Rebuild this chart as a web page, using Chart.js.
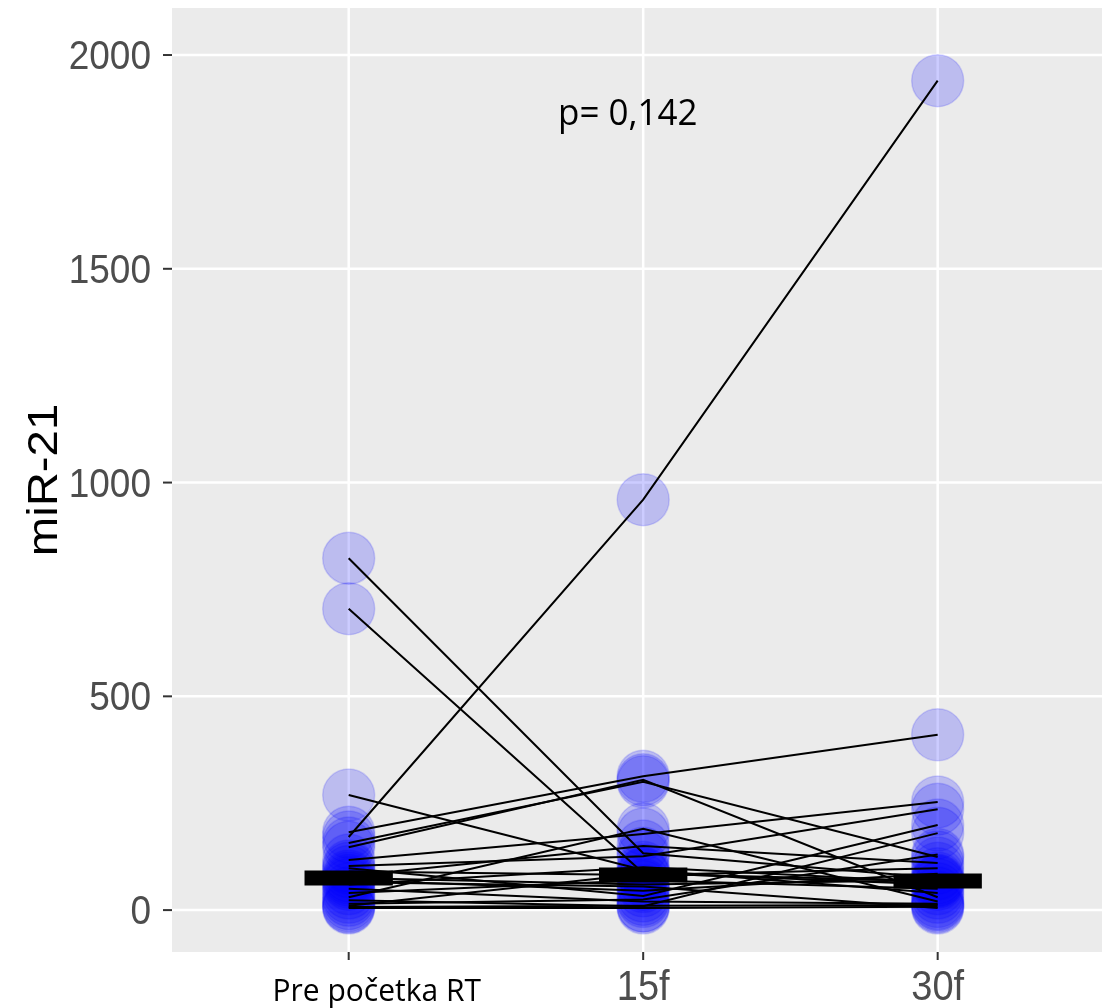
<!DOCTYPE html>
<html>
<head>
<meta charset="utf-8">
<script src="https://cdn.jsdelivr.net/npm/chart.js@4.4.1/dist/chart.umd.min.js"></script>
<style>
  html, body { margin: 0; padding: 0; background: #fff; }
  canvas { display: block; }
</style>
</head>
<body>
<canvas id="myChart" width="1102" height="1008"></canvas>
<script>
// one value per patient, same order in every array
var categories = ["Pre početka RT", "15f", "30f"];
var preRT = [171, 823, 705, 269, 182, 157, 147, 117, 103, 98, 23, 90, 80, 75, 70, 60, 50, 40, 7, 5, 30, 65, 15, 10];
var f15   = [960, 133, 87, 94, 313, 300, 305, 178, 126, 33, 9, 82, 150, 60, 45, 100, 20, 70, 10, 5, 190, 55, 25, 85];
var f30   = [1940, 75, 60, 40, 410, 124, 30, 253, 236, 199, 180, 98, 110, 70, 85, 65, 15, 50, 12, 8, 20, 5, 130, 68];
var medians = [75, 82, 68];
var yTicks = [0, 500, 1000, 1500, 2000];
var pText = "p= 0,142";

var groups = [preRT, f15, f30];

var datasets = [];

// circles
var pts = [];
groups.forEach(function (g, gi) {
  g.forEach(function (v) { pts.push({x: gi + 1, y: v}); });
});
datasets.push({
  type: 'scatter',
  data: pts,
  pointRadius: 26,
  pointBackgroundColor: 'rgba(0,0,255,0.2)',
  pointBorderColor: 'rgba(0,0,255,0.15)',
  pointBorderWidth: 1.5,
  order: 3
});

// patient lines
for (var i = 0; i < preRT.length; i++) {
  datasets.push({
    type: 'line',
    data: groups.map(function (g, gi) { return {x: gi + 1, y: g[i]}; }),
    borderColor: '#000',
    borderWidth: 2,
    pointRadius: 0,
    fill: false,
    order: 2
  });
}

// median bars
medians.forEach(function (m, gi) {
  datasets.push({
    type: 'line',
    data: [{x: gi + 1 - 0.15, y: m}, {x: gi + 1 + 0.15, y: m}],
    borderColor: '#000',
    borderWidth: 15,
    borderCapStyle: 'butt',
    pointRadius: 0,
    order: 1
  });
});

function drawText(ctx, txt, x, y, font, color, align, sx, sy, rot) {
  ctx.save();
  ctx.translate(x, y);
  if (rot) ctx.rotate(rot);
  ctx.scale(sx, sy);
  ctx.font = font;
  ctx.fillStyle = color;
  ctx.textAlign = align;
  ctx.textBaseline = 'alphabetic';
  ctx.fillText(txt, 0, 0);
  ctx.restore();
}

var ggPlot = {
  id: 'ggPlot',
  beforeDatasetsDraw: function (chart) {
    var a = chart.chartArea, ctx = chart.ctx;
    var xs = chart.scales.x, ys = chart.scales.y;
    ctx.save();
    ctx.fillStyle = '#EBEBEB';
    ctx.fillRect(a.left, a.top, a.right - a.left, a.bottom - a.top);
    ctx.strokeStyle = '#FFFFFF';
    ctx.lineWidth = 2.5;
    yTicks.forEach(function (v) {
      var py = ys.getPixelForValue(v);
      ctx.beginPath();
      ctx.moveTo(a.left, py);
      ctx.lineTo(a.right, py);
      ctx.stroke();
    });
    categories.forEach(function (c, gi) {
      var px = xs.getPixelForValue(gi + 1);
      ctx.beginPath();
      ctx.moveTo(px, a.top);
      ctx.lineTo(px, a.bottom);
      ctx.stroke();
    });
    ctx.restore();
  },
  afterDraw: function (chart) {
    var ctx = chart.ctx, a = chart.chartArea;
    var xs = chart.scales.x, ys = chart.scales.y;
    ctx.save();
    ctx.strokeStyle = '#333333';
    ctx.lineWidth = 2;
    yTicks.forEach(function (v) {
      var py = ys.getPixelForValue(v);
      ctx.beginPath();
      ctx.moveTo(a.left - 9, py);
      ctx.lineTo(a.left, py);
      ctx.stroke();
      drawText(ctx, String(v), a.left - 21, py + 14, '37px "Liberation Sans"', '#4D4D4D', 'right', 1, 1.12);
    });
    categories.forEach(function (c, gi) {
      var px = xs.getPixelForValue(gi + 1);
      ctx.beginPath();
      ctx.moveTo(px, a.bottom);
      ctx.lineTo(px, a.bottom + 8);
      ctx.stroke();
      if (gi === 0) {
        drawText(ctx, c, px + 28, 1001, '30px "Open Sans"', '#000', 'center', 1, 1.05);
      } else {
        drawText(ctx, c, px, 1000, '38px "Liberation Sans"', '#4D4D4D', 'center', 1, 1.1);
      }
    });
    drawText(ctx, 'miR-21', 57, 480, '43px "Liberation Sans"', '#000', 'center', 1.1, 1, -Math.PI / 2);
    drawText(ctx, pText, 558, 125, '35px "Open Sans"', '#000', 'left', 1, 1.02);
    ctx.restore();
  }
};

var ctx = document.getElementById("myChart").getContext('2d');
var myChart = new Chart(ctx, {
  type: 'scatter',
  data: { datasets: datasets },
  options: {
    responsive: false,
    devicePixelRatio: 1,
    animation: false,
    events: [],
    layout: { autoPadding: false, padding: { left: 172, right: 0, top: 8, bottom: 56 } },
    plugins: { legend: { display: false }, tooltip: { enabled: false } },
    scales: {
      x: { type: 'linear', display: false, min: 0.4, max: 3.558 },
      y: { type: 'linear', display: false, min: -98, max: 2110 }
    }
  },
  plugins: [ggPlot]
});
</script>
</body>
</html>
